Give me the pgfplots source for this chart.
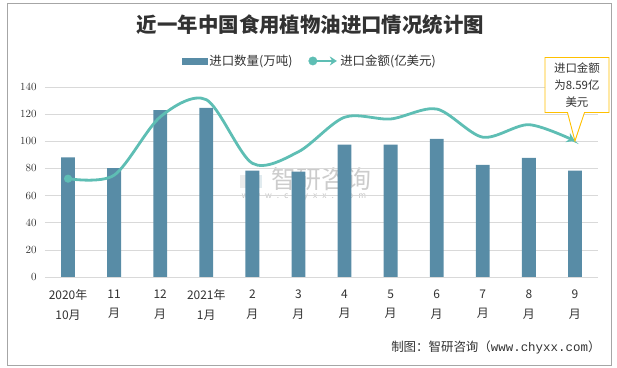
\documentclass[border=0pt]{standalone}
\usepackage{fontspec}
\setmainfont{Noto Sans CJK SC}
\newfontfamily\monofont{Liberation Mono}
\usepackage{pgfplots}
\pgfplotsset{compat=1.18}
\usetikzlibrary{arrows.meta,shapes.callouts,calc}
\definecolor{barc}{RGB}{88,140,166}
\definecolor{linec}{RGB}{94,190,180}
\definecolor{gridc}{RGB}{217,217,217}
\definecolor{txtc}{RGB}{50,50,50}
\definecolor{callc}{RGB}{255,192,0}
\begin{document}
\begin{tikzpicture}
\useasboundingbox (0bp,0bp) rectangle (617bp,368bp);
\draw[black!35, line width=1bp] (7.5bp,2.8bp) rectangle (611.5bp,364.7bp);
\node[font=\fontsize{20.5}{23}\selectfont\bfseries, text=txtc] at (310.5bp,343bp) {近一年中国食用植物油进口情况统计图};
% watermark
\fill[gray!25, opacity=0.6] (240bp,180bp) rectangle (250bp,193bp);
\fill[barc!30, opacity=0.6] (252bp,180bp) rectangle (262bp,193bp);
\node[font=\fontsize{25}{27}\selectfont, text=gray!40, anchor=west] at (268bp,189bp) {智研咨询};
\node[font=\fontsize{8.5}{10}\selectfont, text=gray!45, anchor=west] at (238bp,172bp) {w\hspace{5bp}w\hspace{5bp}w\hspace{5bp}.\hspace{5bp}c\hspace{5bp}h\hspace{5bp}y\hspace{5bp}x\hspace{5bp}x\hspace{5bp}.\hspace{5bp}c\hspace{5bp}o\hspace{5bp}m};
\begin{axis}[
  at={(45bp,91bp)}, anchor=south west, scale only axis,
  width=553bp, height=190bp,
  xmin=-0.5, xmax=11.5, ymin=0, ymax=140,
  ytick={0,20,...,140},
  xtick={0,...,11},
  xticklabels={2020年\\10月,11\\月,12\\月,2021年\\1月,2\\月,3\\月,4\\月,5\\月,6\\月,7\\月,8\\月,9\\月},
  xticklabel style={align=center, font=\fontsize{12}{20}\selectfont, text=txtc, yshift=-9bp},
  yticklabel style={font=\fontsize{11}{12}\selectfont, text=txtc, xshift=-5bp},
  axis x line*=bottom, axis y line*=left,
  y axis line style={draw=none},
  x axis line style={draw=gridc, line width=0.8bp},
  tick style={draw=none},
  ymajorgrids, grid style={gridc, line width=0.7bp},
  legend columns=2,
  legend style={at={(0.479,1.137)}, anchor=center, draw=none, fill=none,
    font=\fontsize{12.5}{14}\selectfont, text=txtc,
    /tikz/every even column/.append style={column sep=14bp}},
]
\addplot[ybar, bar width=0.3, fill=barc, draw=none, forget plot] coordinates {
(0,88.2) (1,80.3) (2,123.0) (3,124.6) (4,78.3) (5,77.6)
(6,97.5) (7,97.5) (8,101.8) (9,82.6) (10,87.8) (11,78.4)};
\addlegendimage{legend image code/.code={\fill[barc] (0bp,-3bp) rectangle (25bp,3bp);}}
\addlegendentry{进口数量(万吨)}
\addlegendimage{legend image code/.code={\draw[linec, line width=2.8bp, -{Stealth[length=7bp,width=9bp]}] (0bp,0bp) -- (24bp,0bp); \fill[linec] (0bp,0bp) circle (4.2bp);}}
\addlegendentry{进口金额(亿美元)}
\end{axis}
\begin{axis}[
  at={(45bp,91bp)}, anchor=south west, scale only axis,
  width=553bp, height=190bp,
  xmin=-0.5, xmax=11.5, ymin=0, ymax=12,
  hide axis, clip=false,
]
\addplot[linec, line width=2.8bp, smooth, tension=0.5,
  -{Stealth[length=8bp,width=10bp]},
  mark=*, mark indices={1}, mark options={solid, -, fill=linec, draw=linec, scale=1.3}]
 coordinates {
(0,6.21) (1,6.43) (2,10.11) (3,11.20) (4,7.18) (5,7.91)
(6,10.09) (7,9.98) (8,10.61) (9,8.83) (10,9.62) (11,8.59)};
\node[rectangle callout, draw=callc, fill=white, line width=0.9bp,
  minimum width=64bp, minimum height=55bp, align=center,
  font=\fontsize{11.5}{17}\selectfont, text=txtc, inner sep=1bp,
  callout absolute pointer={(axis cs:11,8.59)}, callout pointer width=17bp]
  at ($(axis cs:11,8.59)+(2bp,56bp)$) {进口金额\\为8.59亿\\美元};
\end{axis}
\node[anchor=east, font=\fontsize{12.5}{14}\selectfont, text=txtc] at (604bp,21bp) {制图：智研咨询（{\monofont www.chyxx.com}）};
\end{tikzpicture}
\end{document}
